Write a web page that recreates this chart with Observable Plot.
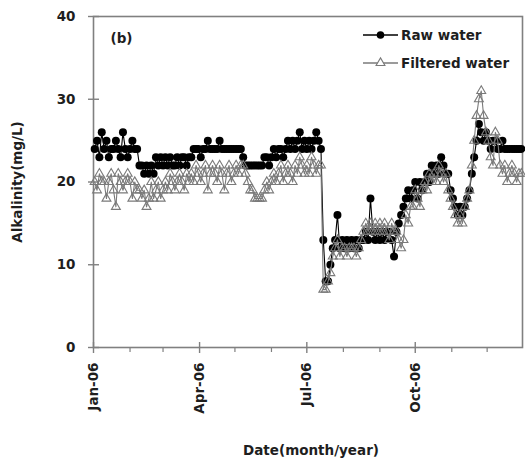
<!DOCTYPE html>
<html><head><meta charset="utf-8">
<script src="https://cdn.jsdelivr.net/npm/d3@7"></script>
<script src="https://cdn.jsdelivr.net/npm/@observablehq/plot@0.6"></script>
<style>body{margin:0;background:#fff}</style>
</head><body><div id="chart"></div>
<script>
// ---- data ----
const startDate = "2006-01-02";
const stepDays = 2;
const rawWater = [
  24,25,23,26,24,25,23,24,24,25,
  24,23,26,24,23,24,25,24,24,22,
  22,21,22,21,22,21,23,22,23,22,
  23,22,23,22,22,23,22,23,23,22,
  23,23,24,24,24,23,24,24,25,24,
  24,24,24,25,24,24,24,24,24,24,
  24,24,24,23,22,22,22,22,22,22,
  22,22,23,23,22,23,24,23,24,24,
  23,24,25,24,25,24,25,26,24,25,
  24,25,24,25,26,25,24,13,8,8,
  10,12,13,16,12,13,12,13,12,13,
  12,13,12,13,13,14,13,18,14,13,
  14,13,14,13,14,14,13,11,14,15,
  16,17,18,19,18,19,20,18,20,19,
  20,21,20,22,21,22,21,23,22,21,
  21,19,18,17,16,17,16,17,18,19,
  21,23,25,27,26,25,26,25,24,25,
  25,24,24,25,24,24,24,24,24,24,24,24
];
const filteredWater = [
  20,19,21,20,20,18,20,21,19,17,
  21,20,19,20,21,20,18,20,19,19,
  18,19,17,18,20,18,19,20,18,19,
  20,19,21,20,19,20,21,20,19,21,
  20,21,20,22,21,20,21,22,19,21,
  22,21,20,22,21,19,21,22,20,21,
  22,21,22,22,21,20,19,19,18,18,
  18,18,19,20,19,20,21,20,21,22,
  20,21,22,21,20,22,21,23,22,21,
  22,21,23,22,21,22,22,7,7,8,
  9,11,12,13,11,12,12,11,12,12,
  12,11,12,13,14,15,14,15,14,15,
  14,15,14,15,14,13,15,14,14,13,
  12,13,16,15,17,17,19,18,17,19,
  20,19,21,20,21,20,22,21,20,21,
  19,18,17,16,15,16,15,17,18,19,
  22,25,28,30,31,28,26,25,23,22,
  26,25,22,21,22,20,21,22,21,20,21,21
];
const seriesNames = ["Raw water", "Filtered water"];
const yTicks = [0, 10, 20, 30, 40];
const xDomain = ["2006-01-01", "2006-12-31"];
const xMajorTicks = ["2006-01-01", "2006-04-01", "2006-07-01", "2006-10-01"];
const xMinorTicks = ["2006-02-01", "2006-03-01", "2006-05-01", "2006-06-01", "2006-08-01",
                     "2006-09-01", "2006-11-01", "2006-12-01"];
const panelLabel = "(b)";
const xTitle = "Date(month/year)";
const yTitle = "Alkalinity(mg/L)";

// ---- layout / style ----
const W = 525, H = 462;
const M = {top: 16, right: 3, bottom: 115, left: 93};
const axisGray = "#808080";
const textColor = "#1e1e1e";
const filteredGray = "#7a7a7a";

const start = new Date(startDate);
const rows = rawWater.map((v, i) => ({
  date: d3.utcDay.offset(start, i * stepDays),
  raw: v,
  filtered: filteredWater[i]
}));
const toDate = s => new Date(s);

function legendMark() {
  const g = d3.create("svg:g");
  const right = W - M.right;
  const items = [
    {name: seriesNames[0], y: M.top + 19, kind: "circle"},
    {name: seriesNames[1], y: M.top + 47, kind: "triangle"}
  ];
  for (const it of items) {
    const x0 = right - 159, x1 = right - 124, xm = (x0 + x1) / 2;
    g.append("line").attr("x1", x0).attr("x2", x1).attr("y1", it.y).attr("y2", it.y)
      .attr("stroke", it.kind === "circle" ? "#000" : filteredGray).attr("stroke-width", 1.3);
    if (it.kind === "circle") {
      g.append("circle").attr("cx", xm).attr("cy", it.y).attr("r", 3.8).attr("fill", "#000");
    } else {
      g.append("path").attr("d", d3.symbol(d3.symbolTriangle, 34)())
        .attr("transform", `translate(${xm},${it.y})`)
        .attr("fill", "#fff").attr("stroke", filteredGray).attr("stroke-width", 1.1);
    }
    g.append("text").attr("x", right - 121).attr("y", it.y).attr("dy", "0.35em")
      .attr("text-anchor", "start")
      .attr("fill", textColor).attr("font-size", 13.5).attr("font-weight", "bold")
      .text(it.name);
  }
  return g.node();
}

const chart = Plot.plot({
  width: W, height: H,
  marginTop: M.top, marginRight: M.right, marginBottom: M.bottom, marginLeft: M.left,
  style: {fontFamily: "DejaVu Sans", fontSize: "13.5px", fontWeight: "bold", color: textColor, background: "#fff"},
  x: {type: "utc", domain: xDomain.map(toDate)},
  y: {domain: [yTicks[0], yTicks[yTicks.length - 1]]},
  marks: [
    Plot.frame({stroke: axisGray, strokeWidth: 1.6}),
    // ticks
    Plot.axisY({ticks: yTicks, tickSize: 11, dx: 6, tickFormat: () => "", label: null, stroke: axisGray, strokeWidth: 1.4}),
    Plot.axisY({ticks: yTicks, tickSize: 0, tickPadding: 18, label: null, fill: textColor}),
    Plot.axisX({ticks: xMajorTicks.map(toDate), tickSize: 11, dy: -5, tickFormat: () => "", label: null, stroke: axisGray, strokeWidth: 1.4}),
    Plot.axisX({ticks: xMinorTicks.map(toDate), tickSize: 5, tickFormat: () => "", label: null, stroke: axisGray, strokeWidth: 1.2}),
    Plot.axisX({ticks: xMajorTicks.map(toDate), tickSize: 0, tickPadding: 15, tickRotate: -90,
                tickFormat: d3.utcFormat("%b-%y"), label: null, fill: textColor}),
    // series
    Plot.line(rows, {x: "date", y: "raw", stroke: "#000", strokeWidth: 1.1}),
    Plot.dot(rows, {x: "date", y: "raw", r: 4, fill: "#000", symbol: "circle"}),
    Plot.line(rows, {x: "date", y: "filtered", stroke: filteredGray, strokeWidth: 1.1}),
    Plot.dot(rows, {x: "date", y: "filtered", r: 3.3, symbol: "triangle", fill: "none", stroke: filteredGray, strokeWidth: 1.1}),
    // titles
    Plot.text([panelLabel], {frameAnchor: "top-left", dx: 17, dy: 22, textAnchor: "start", lineAnchor: "middle", fill: textColor, fontSize: 13.5}),
    Plot.text([xTitle], {frameAnchor: "bottom", dx: 3, dy: 103, lineAnchor: "middle", textAnchor: "middle", fill: textColor, fontSize: 13.5}),
    Plot.text([yTitle], {frameAnchor: "left", dx: -76, rotate: -90, textAnchor: "middle", lineAnchor: "middle", fill: textColor, fontSize: 13.5}),
    legendMark
  ]
});
document.getElementById("chart").appendChild(chart);
</script>
</body></html>
